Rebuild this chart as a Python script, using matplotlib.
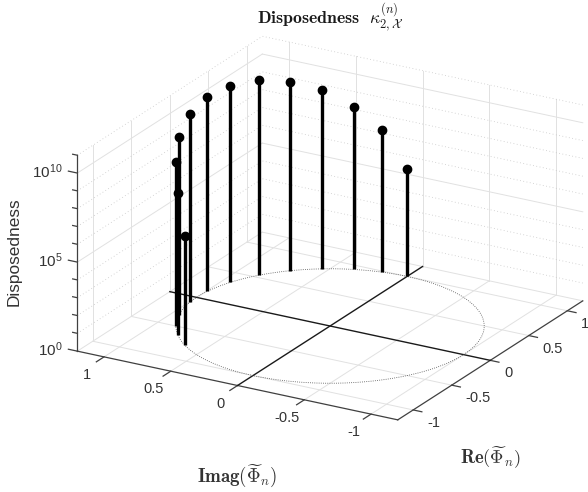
import numpy as np
import matplotlib
matplotlib.use("Agg")
import matplotlib.pyplot as plt
from mpl_toolkits.mplot3d import proj3d

# values
re_vals = [1.000, 0.984, 0.933, 0.840, 0.705, 0.536, 0.337, 0.124, -0.094, -0.317, -0.500, -0.632, -0.762]
imag_vals = [0.000, 0.177, 0.360, 0.543, 0.709, 0.844, 0.941, 0.992, 0.996, 0.948, 0.866, 0.775, 0.648]
log_disposedness = [6.03, 7.98, 9.12, 10.06, 10.62, 10.97, 11.05, 10.90, 10.56, 9.98, 9.20, 7.96, 6.16]

xy_ticks = [-1, -0.5, 0, 0.5, 1]
xy_labels = ["-1", "-0.5", "0", "0.5", "1"]
z_major = [0, 5, 10]
z_minor = [1, 2, 3, 4, 6, 7, 8, 9, 11]
lim = 1.2
ztop = 11

plt.rcParams["font.family"] = ["Liberation Sans", "DejaVu Sans"]
W = 588
H = 492
fig = plt.figure(figsize=(W / 100, H / 100), dpi=100)
side = 547.7
ax = fig.add_axes([48.8 / W, -17.3 / H, side / W, side / H], projection="3d",
                  proj_type="ortho", computed_zorder=False)
ax.view_init(elev=21.8, azim=-150)
ax.set_box_aspect((370, 370, 211))
ax.set_xlim(-lim, lim)
ax.set_ylim(-lim, lim)
ax.set_zlim(0, ztop)
ax.set_axis_off()

grid_col = "#e1e1e1"
dot_col = "#c8c8c8"
axis_col = "#404040"
text_col = "#333333"


def label3d(x, y, z, s, **kw):
    # project first, so the text sits in plain 2d data coordinates
    x2, y2, _ = proj3d.proj_transform(x, y, z, ax.get_proj())
    ax.text2D(x2, y2, s, transform=ax.transData, va="center", color=text_col, **kw)


# floor and wall grid
for t in xy_ticks:
    if t != 0:
        ax.plot([t, t], [-lim, lim], [0, 0], color=grid_col, lw=0.7, zorder=1)
        ax.plot([-lim, lim], [t, t], [0, 0], color=grid_col, lw=0.7, zorder=1)
    ax.plot([t, t], [lim, lim], [0, ztop], color=grid_col, lw=0.7, zorder=1)
    ax.plot([lim, lim], [t, t], [0, ztop], color=grid_col, lw=0.7, zorder=1)
for z in z_major:
    ax.plot([-lim, lim], [lim, lim], [z, z], color=grid_col, lw=0.7, zorder=1)
    ax.plot([lim, lim], [-lim, lim], [z, z], color=grid_col, lw=0.7, zorder=1)
for z in z_minor:
    ax.plot([-lim, lim], [lim, lim], [z, z], color=dot_col, lw=0.6, ls=(0, (1, 3)), zorder=1)
    ax.plot([lim, lim], [-lim, lim], [z, z], color=dot_col, lw=0.6, ls=(0, (1, 3)), zorder=1)

# axis lines
ax.plot([-lim, lim], [-lim, -lim], [0, 0], color=axis_col, lw=0.9, zorder=2)
ax.plot([-lim, -lim], [-lim, lim], [0, 0], color=axis_col, lw=0.9, zorder=2)
ax.plot([-lim, -lim], [lim, lim], [0, ztop], color=axis_col, lw=0.9, zorder=2)

# ticks and tick labels
for t, lab in zip(xy_ticks, xy_labels):
    ax.plot([t, t], [-lim, -lim - 0.065], [0, 0], color=axis_col, lw=0.9, zorder=2)
    ax.plot([-lim, -lim - 0.1], [t, t], [0, 0], color=axis_col, lw=0.9, zorder=2)
    label3d(t, -lim - 0.105, -0.56, lab, ha="left", fontsize=10.5)
    label3d(-lim - 0.22, t, -0.4, lab, ha="center", fontsize=10.5)
for z in z_major:
    ax.plot([-lim, -lim], [lim, lim + 0.067], [z, z], color=axis_col, lw=0.9, zorder=2)
    label3d(-lim, lim + 0.11, z - 0.1, r"$\mathregular{10^{%d}}$" % z, ha="right", fontsize=11)
for z in z_minor:
    ax.plot([-lim, -lim], [lim, lim + 0.035], [z, z], color=axis_col, lw=0.9, zorder=2)

# black zero lines
ax.plot([0, 0], [-lim, lim], [0, 0], color="#1a1a1a", lw=1.0, zorder=3)
ax.plot([-lim, lim], [0, 0], [0, 0], color="#1a1a1a", lw=1.0, zorder=3)

# unit circle on the floor
theta = np.linspace(0, 2 * np.pi, 300)
ax.plot(np.cos(theta), np.sin(theta), np.zeros_like(theta), color="#505050", lw=0.6,
        ls=(0, (1, 1.6)), zorder=4)

# stems
for r, i, z in zip(re_vals, imag_vals, log_disposedness):
    ax.plot([r, r], [i, i], [0, z], color="black", lw=2.4, solid_capstyle="butt", zorder=5)
ax.plot(re_vals, imag_vals, log_disposedness, ls="none", marker="o", ms=6, color="black", zorder=6)

fig.text(330 / W, 1 - 18 / H, r"$\mathbf{Disposedness}\ \ \kappa_{2,\mathcal{X}}^{(n)}$",
         ha="center", va="center", fontsize=12.8, math_fontfamily="cm", color="#1a1a1a")
fig.text(237 / W, 1 - 476 / H, r"$\mathbf{Imag}(\widetilde{\Phi}_n)$", ha="center", va="center",
         fontsize=13.6, math_fontfamily="cm", color="#333333")
fig.text(490 / W, 1 - 458 / H, r"$\mathbf{Re}(\widetilde{\Phi}_n)$", ha="center", va="center",
         fontsize=13.4, math_fontfamily="cm", color="#333333")
fig.text(14 / W, 1 - 252 / H, "Disposedness", rotation=90, ha="center", va="center",
         fontsize=12.4, color=text_col)

fig.savefig("out.png", dpi=100)
